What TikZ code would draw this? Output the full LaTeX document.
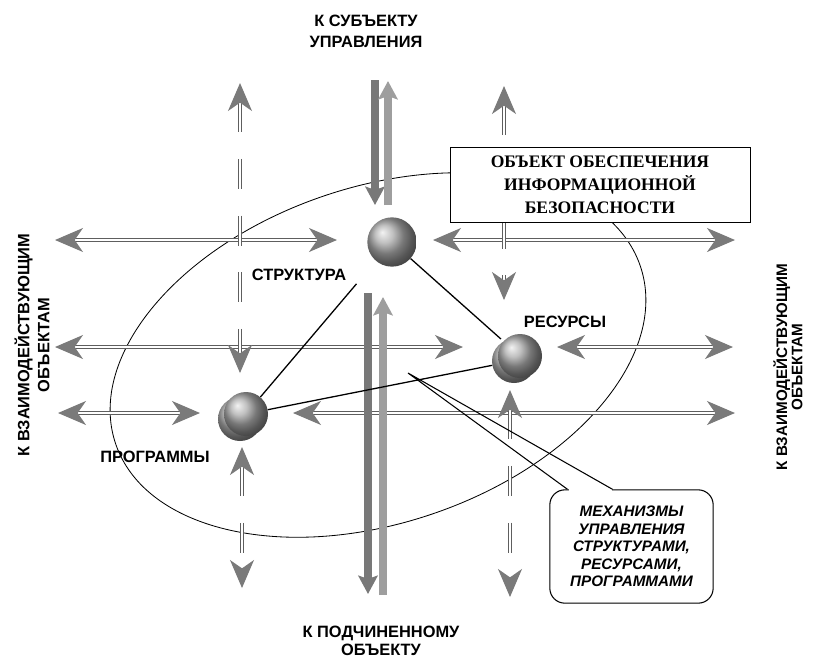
\documentclass[tikz,border=0pt]{standalone}
\usepackage{fontspec}
\setmainfont{Liberation Serif}
\setsansfont{Liberation Sans}
\usetikzlibrary{arrows.meta,positioning,calc}
\definecolor{aline}{HTML}{5E5E5E}
\definecolor{ahead}{HTML}{7A7A7A}
\definecolor{bdark}{HTML}{787878}
\definecolor{blight}{HTML}{9E9E9E}
\definecolor{sgray}{HTML}{ABABAB}
\tikzset{
  dbl/.style={draw=aline,line width=1.1pt,double=white,double distance=1.5pt},
  twoway/.style={dbl,{Stealth[length=8.4mm,width=7.2mm,inset=2.5mm,color=ahead]}-{Stealth[length=8.4mm,width=7.2mm,inset=2.5mm,color=ahead]}},
  dashway/.style={twoway,dash pattern=on 9mm off 8mm},
  bar/.style={line width=2.2mm,-{Stealth[length=5.5mm,width=5.8mm,inset=1mm]}},
  orb/.style={circle,inner sep=0,minimum size=1.32cm,ball color=sgray},
  link/.style={line width=1.1pt,draw=black},
  lbl/.style={font=\sffamily\bfseries\fontsize{14}{18}\selectfont,align=center,inner sep=0},
  objbox/.style={draw,fill=white,line width=0.8pt,minimum width=9cm,minimum height=2.25cm,align=center,font=\rmfamily\bfseries\fontsize{15}{19.5}\selectfont},
  bubble/.style={draw,fill=white,line width=0.9pt,rounded corners=4.5mm,minimum width=4.9cm,minimum height=3.4cm,align=center,font=\sffamily\bfseries\itshape\fontsize{13}{15}\selectfont},
}
\begin{document}
\begin{tikzpicture}[x=0.3mm,y=-0.3mm]
  \useasboundingbox (0,0) rectangle (813,659);
  % object outline
  \draw[line width=0.7pt,rotate around={18.7:(378,355)}] (378,355) ellipse [x radius=277,y radius=168];
  % arrow ends
  \foreach \n/\px/\py in {h1a/55/240,h1b/337/240,h2a/433/240,h2b/735/240,
      h3a/55/347,h3b/463/347,h4a/557/347,h4b/733/347,
      h5a/58/413,h5b/200/413,h6a/293/413,h6b/735/413,
      v1a/240/83,v1b/240/373,v2a/242/447,v2b/242/588,
      v3a/504/86,v3b/504/300,v4a/510/390,v4b/510/597,
      b1a/375/80,b1b/375/205,b2a/388/205,b2b/388/81,
      b3a/368/293,b3b/368/594,b4a/383/595,b4b/383/297}
    \coordinate (\n) at (\px,\py);
  \foreach \a/\b in {h1a/h1b,h2a/h2b,h3a/h3b,h4a/h4b,h5a/h5b,h6a/h6b}
    \draw[twoway] (\a) -- (\b);
  \foreach \a/\b in {v1a/v1b,v2a/v2b,v3a/v3b,v4a/v4b}
    \draw[dashway] (\a) -- (\b);
  % subject / subordinate channels
  \foreach \a/\b/\c in {b1a/b1b/bdark,b2a/b2b/blight,b3a/b3b/bdark,b4a/b4b/blight}
    \draw[bar,draw=\c] (\a) -- (\b);
  % elements
  \node[orb] (res2) at (514,361) {};
  \node[orb] (res) at (520,356) {};
  \node[orb] (prog2) at (240,419) {};
  \node[orb] (prog) at (246,414) {};
  \node[orb,minimum size=1.48cm] (struct) at (392,242) {};
  \node[lbl] (structlbl) at (299,275) {СТРУКТУРА};
  \node[lbl] (reslbl) at (565,322) {РЕСУРСЫ};
  \node[lbl] (proglbl) at (155,457) {ПРОГРАММЫ};
  \draw[link,shorten >=1mm] (struct) -- (res);
  \draw[link,shorten >=9mm] (prog) -- (struct);
  \draw[link] (prog) -- (res2);
  \node[objbox] (obj) at (600,184.5) {ОБЪЕКТ ОБЕСПЕЧЕНИЯ\\ИНФОРМАЦИОННОЙ\\БЕЗОПАСНОСТИ};
  % directions
  \node[lbl] (subj) at (366,31) {К СУБЪЕКТУ\\УПРАВЛЕНИЯ};
  \node[lbl,font=\sffamily\bfseries\fontsize{14}{15}\selectfont] (subord) at (381,641) {К ПОДЧИНЕННОМУ\\ОБЪЕКТУ};
  \node[lbl,rotate=90,font=\sffamily\bfseries\fontsize{14}{17}\selectfont] (peerl) at (32,345) {К ВЗАИМОДЕЙСТВУЮЩИМ\\ОБЪЕКТАМ};
  \node[lbl,rotate=90,font=\sffamily\bfseries\fontsize{13}{13}\selectfont] (peerr) at (788,367) {К ВЗАИМОДЕЙСТВУЮЩИМ\\ОБЪЕКТАМ};
  % callout
  \node[bubble] (mech) at (631.5,546.5) {МЕХАНИЗМЫ\\УПРАВЛЕНИЯ\\СТРУКТУРАМИ,\\РЕСУРСАМИ,\\ПРОГРАММАМИ};
  \coordinate (tip) at (408,373);
  \fill[white] ($(mech.north)+(-63,-2)$) rectangle ($(mech.north)+(-20,2)$);
  \draw[line width=0.9pt] ($(mech.north)+(-64,0)$) -- (tip) -- ($(mech.north)+(-19,0)$);
\end{tikzpicture}
\end{document}
